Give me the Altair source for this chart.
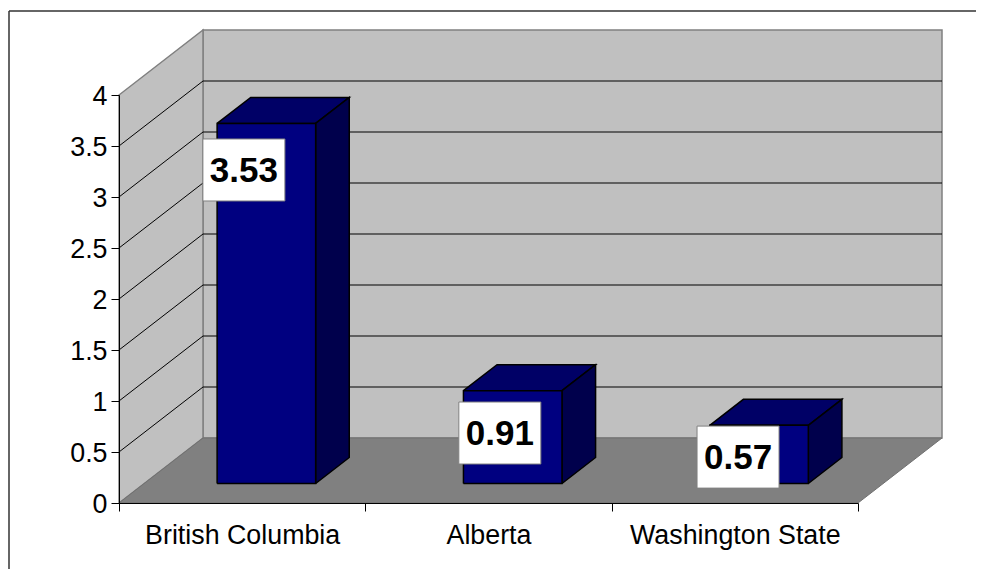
import altair as alt
import pandas as pd

categories = ["British Columbia", "Alberta", "Washington State"]
values = [3.53, 0.91, 0.57]
value_labels = ["3.53", "0.91", "0.57"]
# label-box centres (category units from axis start, value units)
label_x = [0.507, 1.546, 2.513]
label_y = [3.265, 0.686, 0.45]
y_ticks = [0, 0.5, 1, 1.5, 2, 2.5, 3, 3.5, 4]
grid_levels = [0.5, 1, 1.5, 2, 2.5, 3, 3.5]

FONT = "Liberation Sans"
PW, PH = 739, 408
N = len(categories)
YMAX = 4
# depth direction of the 3-D box, in data units per unit of depth
DX = 84 / (PW / N)
DY = 65 / (PH / YMAX)
# bar geometry, in category and depth fractions
BAR_START, BAR_END = 0.296, 0.696
D_FRONT, D_BACK = 0.30, 0.70


def pt(c, v, d=0.0):
    return c + d * DX, v + d * DY


def polygon(name, corners):
    return [
        {"face": name, "i": i, "x": p[0], "y": p[1]}
        for i, p in enumerate(corners + corners[:1])
    ]


lab_expr = "".join(
    f"datum.value=={i + 0.5}?'{c}':" for i, c in enumerate(categories)
) + "''"

X_ENC = alt.X(
    "x:Q",
    scale=alt.Scale(domain=[0, N], nice=False, zero=False),
    axis=alt.Axis(
        values=[i * 0.5 for i in range(2 * N + 1)],
        labelExpr=lab_expr,
        labelFont=FONT,
        labelFontSize=26.8,
        labelColor="#000000",
        labelAngle=0,
        labelOverlap=False,
        labelPadding=11,
        labelLimit=0,
        labelBound=False,
        labelFlush=False,
        domainColor="#000000",
        tickColor="#000000",
        tickSize=8,
        tickOpacity={"condition": {"test": "datum.value % 1 == 0", "value": 1}, "value": 0},
        grid=False,
        title=None,
        zindex=2,
    ),
)
Y_ENC = alt.Y(
    "y:Q",
    scale=alt.Scale(domain=[0, YMAX], nice=False, zero=False),
    axis=alt.Axis(
        values=y_ticks,
        labelExpr="format(datum.value, '')",
        labelFont=FONT,
        labelFontSize=26.8,
        labelColor="#000000",
        labelPadding=4,
        labelOffset=1,
        labelOverlap=False,
        labelBound=False,
        labelFlush=False,
        domainColor="#000000",
        tickColor="#000000",
        tickSize=8,
        grid=False,
        title=None,
        zindex=2,
    ),
)


def face_layer(rows, fill, stroke, width):
    return (
        alt.Chart(pd.DataFrame(rows))
        .mark_line(fill=fill, stroke=stroke, strokeWidth=width, clip=False, strokeJoin="miter")
        .encode(x=X_ENC, y=Y_ENC, order="i:Q", detail="face:N")
    )


side_wall = polygon("side", [pt(0, 0), pt(0, YMAX), pt(0, YMAX, 1), pt(0, 0, 1)])
back_wall = polygon("back", [pt(0, 0, 1), pt(0, YMAX, 1), pt(N, YMAX, 1), pt(N, 0, 1)])
floor = polygon("floor", [pt(0, 0), pt(N, 0), pt(N, 0, 1), pt(0, 0, 1)])

grid_rows = []
for g in grid_levels:
    for i, (c, d) in enumerate([(0, 0), (0, 1), (N, 1)]):
        x, y = pt(c, g, d)
        grid_rows.append({"face": str(g), "i": i, "x": x, "y": y})

front_rows, top_rows, right_rows = [], [], []
for k, v in enumerate(values):
    a, b = k + BAR_START, k + BAR_END
    front_rows += polygon(f"f{k}", [pt(a, 0, D_FRONT), pt(b, 0, D_FRONT), pt(b, v, D_FRONT), pt(a, v, D_FRONT)])
    top_rows += polygon(f"t{k}", [pt(a, v, D_FRONT), pt(b, v, D_FRONT), pt(b, v, D_BACK), pt(a, v, D_BACK)])
    right_rows += polygon(f"r{k}", [pt(b, 0, D_FRONT), pt(b, 0, D_BACK), pt(b, v, D_BACK), pt(b, v, D_FRONT)])

grid = (
    alt.Chart(pd.DataFrame(grid_rows))
    .mark_line(color="#000000", strokeWidth=1, clip=False)
    .encode(x=X_ENC, y=Y_ENC, order="i:Q", detail="face:N")
)

labels_df = pd.DataFrame({"x": label_x, "y": label_y, "text": value_labels})
boxes = (
    alt.Chart(labels_df)
    .mark_rect(width=82, height=62, fill="#FFFFFF", stroke="#808080", strokeWidth=1)
    .encode(x=X_ENC, y=Y_ENC)
)
texts = (
    alt.Chart(labels_df)
    .mark_text(font=FONT, fontSize=35, fontWeight="bold", color="#000000", baseline="middle", align="center", dy=1)
    .encode(x=X_ENC, y=Y_ENC, text="text:N")
)

frame_v = alt.Chart(pd.DataFrame({"a": [0]})).mark_rule(color="#333333", strokeWidth=1.5).encode(
    x=alt.value(-110), y=alt.value(-84), y2=alt.value(480)
)
frame_h = alt.Chart(pd.DataFrame({"a": [0]})).mark_rule(color="#333333", strokeWidth=1.5).encode(
    y=alt.value(-84), x=alt.value(-110), x2=alt.value(860)
)

chart = (
    alt.layer(
        frame_v,
        frame_h,
        face_layer(back_wall, "#C0C0C0", "#808080", 1.5),
        face_layer(side_wall, "#C0C0C0", "#808080", 1.5),
        face_layer(floor, "#808080", "#707070", 1),
        grid,
        face_layer(top_rows, "#000066", "#000000", 1.5),
        face_layer(right_rows, "#00004C", "#000000", 1.5),
        face_layer(front_rows, "#000080", "#000000", 1.5),
        boxes,
        texts,
    )
    .properties(
        width=PW,
        height=PH,
        padding={"left": 111, "top": 87, "right": 118, "bottom": 66},
        autosize=alt.AutoSizeParams(type="none"),
        background="#FFFFFF",
    )
    .configure_view(stroke=None)
)

chart.save("out.html", embed_options={"renderer": "svg", "actions": False})
